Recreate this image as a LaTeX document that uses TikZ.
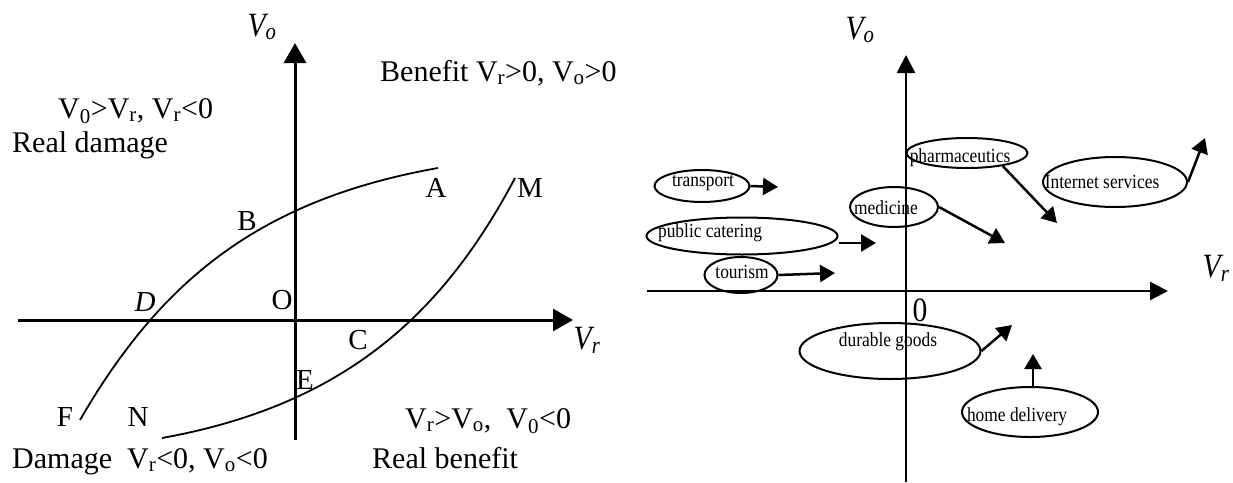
\documentclass[tikz,border=0pt]{standalone}
\usepackage{fontspec}
\setmainfont{Liberation Serif}
\newfontfamily\condserif{Liberation Serif}[FakeStretch=0.87]
\usetikzlibrary{arrows.meta,shapes.geometric}
\newcommand{\sbs}[1]{\textsubscript{#1}}
\begin{document}
\begin{tikzpicture}[x=1pt,y=-1pt,
  bigtxt/.style={font=\fontsize{30}{33}\selectfont, inner sep=0pt},
  axlab/.style={font=\condserif\fontsize{34}{37}\selectfont\itshape, inner sep=0pt},
  ptlab/.style={font=\fontsize{29}{32}\selectfont, inner sep=0pt},
  axisL/.style={line width=3pt, -{Triangle[length=20pt,width=22pt]}},
  axisR/.style={line width=2.5pt, -{Triangle[length=18pt,width=18pt]}},
  curve/.style={line width=1.8pt},
  ell/.style={draw, ellipse, line width=2pt, inner sep=0pt},
  etxt/.style={font=\condserif\fontsize{20}{22}\selectfont, inner sep=0pt},
  arr/.style={line width=2.5pt, -{Triangle[length=15pt,width=17pt]}}]
\useasboundingbox (0,0) rectangle (1233,482);

% ---------------- left diagram ----------------
\coordinate (lx0) at (18,320);
\coordinate (lx1) at (573,320);
\coordinate (ly0) at (295,440);
\coordinate (ly1) at (295,43);
\draw[axisL] (lx0) -- (lx1);
\draw[axisL] (ly0) -- (ly1);
\node[axlab] (lvo) at (262,27) {V\textsubscript{o}};
\node[axlab] (lvr) at (587,340) {V\textsubscript{r}};

\coordinate (F0) at (80,420);
\coordinate (A0) at (438,168);
\coordinate (N0) at (162,438);
\coordinate (M0) at (515,178);
\draw[curve] (F0) .. controls (160,282) and (258,200) .. (A0);
\draw[curve] (N0) .. controls (345,405) and (443,314) .. (M0);

\node[ptlab] (A) at (436,188) {A};
\node[ptlab] (B) at (247,221) {B};
\node[ptlab] (D) at (145,302) {\itshape D};
\node[ptlab] (O) at (282,300) {O};
\node[ptlab] (C) at (358,340) {C};
\node[ptlab] (E) at (305,380) {E};
\node[ptlab] (F) at (65,417) {F};
\node[ptlab] (N) at (138,417) {N};
\node[ptlab] (M) at (530,188) {M};

\node[bigtxt, anchor=base west] (t1) at (380,81) {Benefit V\sbs{r}>0, V\sbs{o}>0};
\node[bigtxt, anchor=base west] (t2) at (58,118) {V\sbs{0}>V\sbs{r}, V\sbs{r}<0};
\node[bigtxt, anchor=base west] (t3) at (12,152) {Real damage};
\node[bigtxt, anchor=base west] (t4) at (405,428) {V\sbs{r}>V\sbs{o},\ \ V\sbs{0}<0};
\node[bigtxt, anchor=base west] (t5) at (12,468) {Damage\ \ V\sbs{r}<0, V\sbs{o}<0};
\node[bigtxt, anchor=base west] (t6) at (372,468) {Real benefit};

% ---------------- right diagram ----------------
\coordinate (rx0) at (647,291);
\coordinate (rx1) at (1168,291);
\coordinate (ry0) at (906,482);
\coordinate (ry1) at (906,55);
\draw[axisR] (rx0) -- (rx1);
\draw[axisR] (ry0) -- (ry1);
\node[axlab] (rvo) at (860,30) {V\textsubscript{o}};
\node[axlab] (rvr) at (1216,268) {V\textsubscript{r}};
\node[font=\condserif\fontsize{34}{37}\selectfont, inner sep=0pt] (zero) at (920,310) {0};

\node[ell, minimum width=95pt, minimum height=32pt] (tr) at (702,186) {};
\node[etxt] (trt) at (703,183) {transport};
\node[ell, minimum width=121pt, minimum height=30pt] (ph) at (967,153) {};
\node[etxt] (pht) at (960,158) {pharmaceutics};
\node[ell, minimum width=144pt, minimum height=50pt] (in) at (1115,182) {};
\node[etxt] (int) at (1102,182) {Internet services};
\node[ell, minimum width=88pt, minimum height=40pt] (me) at (894,207) {};
\node[etxt] (met) at (886,208) {medicine};
\node[ell, minimum width=191pt, minimum height=37pt] (pc) at (742,236) {};
\node[etxt] (pct) at (710,233) {public catering};
\node[ell, minimum width=73pt, minimum height=36pt] (to) at (741,275) {};
\node[etxt] (tot) at (742,272) {tourism};
\node[ell, minimum width=181pt, minimum height=56pt] (du) at (890,351) {};
\node[etxt] (dut) at (888,342) {durable goods};
\node[ell, minimum width=136pt, minimum height=50pt] (hd) at (1030,412) {};
\node[etxt] (hdt) at (1017,417) {home delivery};

\coordinate (trE) at (778,187);
\coordinate (pcE) at (876,243);
\coordinate (toE) at (835,273);
\coordinate (meE) at (1005,243);
\coordinate (phE) at (1057,223);
\coordinate (inE) at (1205,138);
\coordinate (duE) at (1012,325);
\coordinate (hdE) at (1033,354);

\draw[arr] (tr.east) -- (trE);
\draw[arr] (pc.east |- pcE) -- (pcE);
\draw[arr] (to.east) -- (toE);
\draw[arr] (me.east) -- (meE);
\draw[arr] (ph.-20) -- (phE);
\draw[arr] (in.east) -- (inE);
\draw[arr] (du.east) -- (duE);
\draw[arr] (hd.north -| hdE) -- (hdE);
\end{tikzpicture}
\end{document}
